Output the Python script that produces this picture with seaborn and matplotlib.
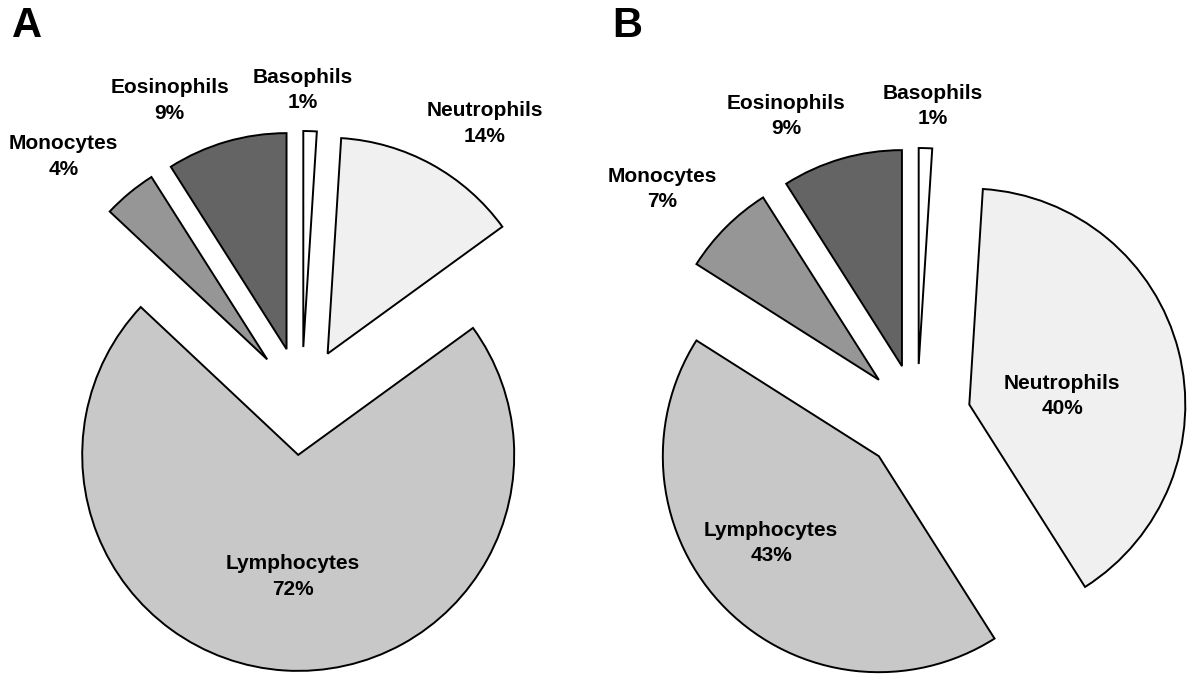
import numpy as np
import matplotlib
matplotlib.use('Agg')
import matplotlib.pyplot as plt
import seaborn as sns

# Dados: percentuais de leucócitos (ordem horária a partir das 12h)
cells = ['Basophils', 'Neutrophils', 'Lymphocytes', 'Monocytes', 'Eosinophils']
pct_a = [1, 14, 72, 4, 9]
pct_b = [1, 40, 43, 7, 9]
panels = ['A', 'B']

cores = ['#ffffff', '#f0f0f0', '#c8c8c8', '#969696', '#646464']

sns.set_theme(style='white')
plt.rcParams['font.family'] = ['Liberation Sans', 'DejaVu Sans']
plt.rcParams['text.color'] = 'black'

W, H = 1200, 686
R = 216.0  # raio em pixels
fig = plt.figure(figsize=(W / 100, H / 100), dpi=100)

# layout de cada painel: (x0 px, largura px, centro x px, centro y px)
layout = [(0, 600, 301.6, 401), (600, 600, 917, 418)]
# posição dos rótulos: distância (em raios) e desvio angular horário (graus)
lab_dist = [[1.44, 1.54, 0.815, 1.58, 1.52], [1.446, 0.679, 0.89, 1.587, 1.524]]
lab_shift = [[-1.5, 4.6, -0.8, -4.6, -7.5], [1.0, 5.8, 4.4, -3.1, -7.25]]

for i, valores in enumerate([pct_a, pct_b]):
    x0, w, cx, cy = layout[i]
    ax = fig.add_axes([x0 / W, 0, w / W, 1])
    wedges, _ = ax.pie(valores, startangle=90, counterclock=False, radius=1,
                       explode=[0.25] * len(valores), colors=cores,
                       wedgeprops=dict(edgecolor='black', linewidth=1.4))
    ax.set_xlim(-(cx - x0) / R, (x0 + w - cx) / R)
    ax.set_ylim(-(H - cy) / R, cy / R)
    ax.axis('off')
    for j, wd in enumerate(wedges):
        ang = np.deg2rad((wd.theta1 + wd.theta2) / 2 - lab_shift[i][j])
        d = lab_dist[i][j]
        ax.text(d * np.cos(ang), d * np.sin(ang), f'{cells[j]}\n{valores[j]}%',
                ha='center', va='center', fontsize=15, fontweight='bold',
                color='black', linespacing=1.45, zorder=5)
    fig.text((x0 + 12) / W, 1 - 6 / H, panels[i], ha='left', va='top',
             fontsize=30, fontweight='bold', color='black')

plt.savefig('out.png', dpi=100)
